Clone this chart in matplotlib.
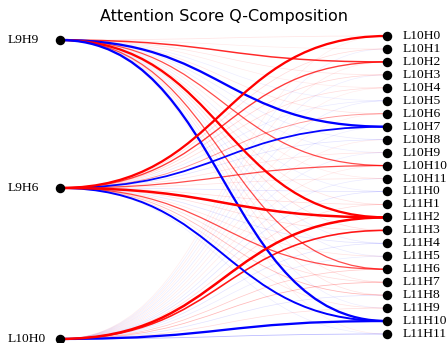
import numpy as np
import matplotlib
matplotlib.use('Agg')
import matplotlib.pyplot as plt
from matplotlib.path import Path
from matplotlib.patches import PathPatch

# source heads (left) and target heads (right)
sources = ['L9H9', 'L9H6', 'L10H0']
source_pos = [0.31, 11.73, 23.38]
targets = ['L10H%d' % i for i in range(12)] + ['L11H%d' % i for i in range(12)]

# signed composition scores, one value per target head
w_l9h9 = [0.08, 0.06, 0.6, 0.08, 0.06, -0.05, 0.08, -0.85, -0.06, -0.05, 0.5, 0.06,
          -0.05, 0.08, 0.85, 0.1, -0.06, -0.06, 0.5, 0.08, 0.08, -0.05, -0.85, 0.05]
w_l9h6 = [0.85, 0.1, 0.55, 0.12, 0.1, -0.06, 0.3, -0.7, -0.08, 0.08, 0.5, 0.08,
          -0.08, 0.1, 0.9, 0.1, -0.08, 0.08, 0.5, 0.1, 0.2, 0.08, -0.75, -0.05]
w_l10h0 = [0.05, -0.05, 0.06, -0.05, 0.05, -0.06, 0.05, -0.05, 0.06, -0.05, 0.06, -0.06,
           -0.08, 0.1, 0.9, 0.65, -0.08, -0.06, 0.15, 0.2, -0.08, 0.1, -0.85, -0.2]
weights = [w_l9h9, w_l9h6, w_l10h0]

fig = plt.figure(figsize=(4.47, 3.43), dpi=100)
ax = fig.add_axes([60 / 447, 1 - 334 / 343, 327 / 447, 298 / 343])
ax.set_xlim(0, 1)
ax.set_ylim(len(targets) - 1, 0)
ax.axis('off')

edges = []
for s, ws in enumerate(weights):
    for t, w in enumerate(ws):
        edges.append((abs(w), s, t, w))
edges.sort()

for mag, s, t, w in edges:
    y0 = source_pos[s]
    y1 = t
    verts = [(0, y0), (0.5, y0), (0.5, y1), (1, y1)]
    codes = [Path.MOVETO, Path.CURVE4, Path.CURVE4, Path.CURVE4]
    color = '#ff0000' if w > 0 else '#0000ff'
    patch = PathPatch(Path(verts, codes), facecolor='none', edgecolor=color,
                      lw=0.5 + 1.6 * mag ** 2, alpha=min(1.0, 1.4 * mag), clip_on=False)
    ax.add_patch(patch)

ax.scatter(np.zeros(len(sources)), source_pos, s=34, color='black', zorder=5, clip_on=False)
ax.scatter(np.ones(len(targets)), np.arange(len(targets)), s=34, color='black', zorder=5, clip_on=False)

for name, y in zip(sources, source_pos):
    ax.text(-0.159, y, name, ha='left', va='center', family='Liberation Serif', fontsize=9.7)
for i, name in enumerate(targets):
    ax.text(1.049, i, name, ha='left', va='center', family='Liberation Serif', fontsize=9.7)

fig.text(0.5, 1 - 17 / 343, 'Attention Score Q-Composition', ha='center', va='center', fontsize=11.5)

fig.savefig('out.png', dpi=100)
